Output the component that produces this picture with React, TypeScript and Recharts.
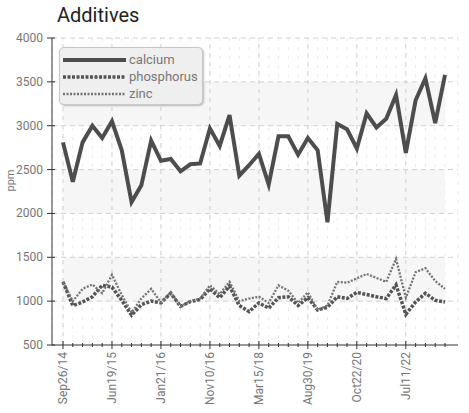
import React from "react";
import {
  LineChart,
  Line,
  XAxis,
  YAxis,
  CartesianGrid,
  ReferenceArea,
  ReferenceLine,
  Legend,
} from "recharts";

// values, one point per sample
const calcium = [
  2810, 2360, 2810, 3000, 2860, 3050, 2720, 2130, 2320, 2830,
  2600, 2620, 2480, 2560, 2570, 2970, 2770, 3120, 2430, 2550,
  2680, 2330, 2880, 2880, 2670, 2860, 2720, 1900, 3020, 2960,
  2740, 3140, 2980, 3080, 3350, 2690, 3290, 3540, 3030, 3580,
];
const phosphorus = [
  1220, 950, 990, 1050, 1180, 1160, 1010, 840, 960, 1000,
  980, 1090, 940, 995, 1020, 1140, 1040, 1170, 950, 880,
  980, 920, 1040, 1050, 950, 1040, 900, 930, 1050, 1030,
  1100, 1075, 1050, 1030, 1185, 850, 990, 1090, 1010, 990,
];
const zinc = [
  1220, 1000, 1140, 1190, 1090, 1300, 1070, 870, 1030, 1140,
  985, 1100, 940, 1000, 1030, 1180, 1080, 1220, 1000, 1030,
  1050, 980, 1180, 1120, 980, 1100, 900, 950, 1220, 1210,
  1260, 1310, 1265, 1220, 1480, 1040, 1330, 1375, 1230, 1140,
];
const dateLabels = [
  "Sep26/14", "Jun19/15", "Jan21/16", "Nov10/16",
  "Mar15/18", "Aug30/19", "Oct22/20", "Jul11/22",
];
const labelEvery = 5;
const yTicks = [500, 1000, 1500, 2000, 2500, 3000, 3500, 4000];

const data = calcium.map((c, i) => ({
  idx: i,
  calcium: c,
  phosphorus: phosphorus[i],
  zinc: zinc[i],
}));
const allTicks = data.map((d) => d.idx);
const majorTicks = allTicks.filter((i) => i % labelEvery === 0);
// every other band between y ticks is shaded
const bands = yTicks
  .slice(0, -1)
  .map((v, i) => [v, yTicks[i + 1]])
  .filter((_, i) => i % 2 === 1);

const series = [
  { key: "calcium", color: "#4d4d4d", width: 4, dash: undefined },
  { key: "phosphorus", color: "#545454", width: 3.5, dash: "3 1.5" },
  { key: "zinc", color: "#737373", width: 2.3, dash: "2 1.5" },
];

const font = "Roboto, 'Noto Sans', sans-serif";

function XTick(props: any) {
  const { x, y, payload } = props;
  const i = payload.value;
  const major = i % labelEvery === 0;
  const h = major ? 4 : 2;
  return (
    <g>
      <line x1={x} x2={x} y1={y - h} y2={y + h} stroke="#333" strokeWidth={1} />
      {major && (
        <text
          transform={`translate(${x},${y + 7}) rotate(-90)`}
          textAnchor="end"
          dominantBaseline="central"
          fill="#777"
          fontSize={12}
          fontFamily={font}
        >
          {dateLabels[i / labelEvery]}
        </text>
      )}
    </g>
  );
}

function YTick(props: any) {
  const { x, y, payload } = props;
  return (
    <g>
      <line x1={x - 5} x2={x + 3} y1={y} y2={y} stroke="#333" strokeWidth={1} />
      <text
        x={x - 9}
        y={y}
        textAnchor="end"
        dominantBaseline="central"
        fill="#777"
        fontSize={12}
        fontFamily={font}
      >
        {payload.value}
      </text>
    </g>
  );
}

function LegendBox() {
  return (
    <div
      style={{
        width: 144,
        height: 58,
        boxSizing: "border-box",
        background: "#efefef",
        border: "1px solid #c6c6c6",
        borderRadius: 5,
        boxShadow: "1px 1px 2px rgba(0,0,0,0.25)",
        paddingTop: 3,
        paddingLeft: 3,
        fontFamily: font,
        fontSize: 13,
        color: "#777",
      }}
    >
      {series.map((s) => (
        <div key={s.key} style={{ display: "flex", alignItems: "center", height: 17 }}>
          <svg width={63} height={8} style={{ marginRight: 3 }}>
            <line
              x1={0}
              x2={63}
              y1={4}
              y2={4}
              stroke={s.color}
              strokeWidth={s.width}
              strokeDasharray={s.dash}
            />
          </svg>
          <span style={{ lineHeight: "17px" }}>{s.key}</span>
        </div>
      ))}
    </div>
  );
}

export default function App() {
  return (
    <div style={{ position: "absolute", left: 0, top: 0, width: 469, height: 413, background: "#fff" }}>
      <div
        style={{
          position: "absolute",
          left: 57,
          top: 3,
          fontFamily: font,
          fontSize: 20,
          color: "#222",
        }}
      >
        Additives
      </div>
      <LineChart
        width={469}
        height={413}
        data={data}
        margin={{ top: 38, right: 11, left: 0, bottom: 0 }}
      >
        {bands.map(([a, b]) => (
          <ReferenceArea key={a} y1={a} y2={b} fill="#f6f6f6" fillOpacity={1} stroke="none" ifOverflow="hidden" />
        ))}
        <CartesianGrid horizontal={false} stroke="#ececec" strokeDasharray="3 6" />
        {yTicks.slice(1).map((v) => (
          <ReferenceLine key={v} y={v} stroke="#d2d2d2" strokeDasharray="5 4" />
        ))}
        {majorTicks.map((i) => (
          <ReferenceLine key={i} x={i} stroke="#cfcfcf" strokeDasharray="4 5" />
        ))}
        <XAxis
          dataKey="idx"
          type="number"
          domain={[0, allTicks.length - 1]}
          ticks={allTicks}
          interval={0}
          padding={{ left: 11, right: 13 }}
          height={68}
          tickSize={0}
          tickMargin={0}
          tickLine={false}
          tick={<XTick />}
          stroke="#333"
        />
        <YAxis
          domain={[500, 4000]}
          ticks={yTicks}
          interval={0}
          width={52}
          tickSize={0}
          tickMargin={0}
          tickLine={false}
          tick={<YTick />}
          stroke="#333"
          allowDataOverflow
          label={{
            value: "ppm",
            angle: -90,
            position: "insideLeft",
            offset: 10,
            fill: "#777",
            fontSize: 11,
            fontFamily: font,
          }}
        />
        {series.map((s) => (
          <Line
            key={s.key}
            dataKey={s.key}
            stroke={s.color}
            strokeWidth={s.width}
            strokeDasharray={s.dash}
            dot={false}
            activeDot={false}
            isAnimationActive={false}
          />
        ))}
        <Legend
          layout="vertical"
          align="center"
          verticalAlign="middle"
          content={() => <LegendBox />}
          wrapperStyle={{ left: 59, top: 47, width: 146 }}
        />
      </LineChart>
    </div>
  );
}
